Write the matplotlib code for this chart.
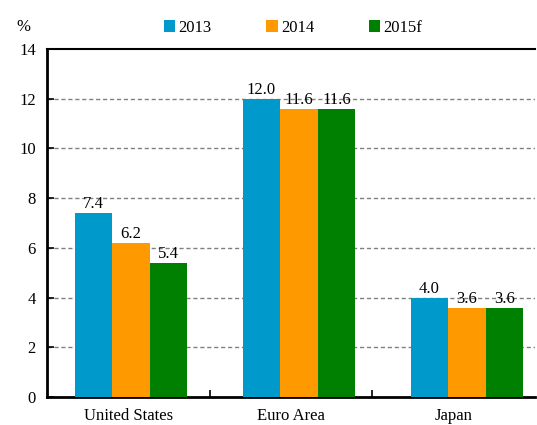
import numpy as np
import matplotlib
matplotlib.use("Agg")
import matplotlib.pyplot as plt
from matplotlib.patches import Patch

regions = ["United States", "Euro Area", "Japan"]
years = ["2013", "2014", "2015f"]
vals_2013 = [7.4, 12.0, 4.0]
vals_2014 = [6.2, 11.6, 3.6]
vals_2015 = [5.4, 11.6, 3.6]
colors = ["#0099CC", "#FF9900", "#008000"]
y_ticks = [0, 2, 4, 6, 8, 10, 12, 14]

plt.rcParams["font.family"] = ["Liberation Serif", "DejaVu Serif"]
plt.rcParams["font.size"] = 12

fig = plt.figure(figsize=(5.37, 4.25), dpi=100)
ax = fig.add_axes([47 / 537, 1 - 397 / 425, 488 / 537, 348 / 425])

# category boundaries (bar groups are not exactly centred in them, as in source)
bounds = [-0.5, 0.47, 1.435, 2.405]
label_pos = [(a + b) / 2 for a, b in zip(bounds[:-1], bounds[1:])]

x = np.arange(len(regions))
w = 0.223
series = [vals_2013, vals_2014, vals_2015]
for i, (vals, col) in enumerate(zip(series, colors)):
    pos = x + (i - 1) * w
    bars = ax.bar(pos, vals, width=w, color=col, zorder=3)
    for b, v in zip(bars, vals):
        ax.text(b.get_x() + b.get_width() / 2, v + 0.03, f"{v:.1f}",
                ha="center", va="bottom", fontsize=12, zorder=4)

ax.set_xlim(bounds[0], bounds[-1])
ax.set_ylim(0, 14)
ax.set_yticks(y_ticks)
ax.set_xticks(label_pos)
ax.set_xticklabels(regions)
ax.set_xticks(bounds[1:-1], minor=True)
ax.tick_params(axis="x", which="major", length=0, pad=8)
ax.tick_params(axis="x", which="minor", direction="in", length=5, width=1.2)
ax.tick_params(axis="y", direction="in", length=5, width=1.2, pad=8)

for yv in y_ticks[1:-1]:
    ax.axhline(yv, color="#808080", linestyle=(0, (3, 2)), linewidth=1, zorder=1)

ax.spines["right"].set_visible(False)
for s in ["left", "bottom"]:
    ax.spines[s].set_linewidth(2)
ax.spines["top"].set_linewidth(1.5)

ax.text(-0.049, 1.063, "%", transform=ax.transAxes, ha="center", va="center")

handles = [Patch(facecolor=c) for c in colors]
fig.legend(handles, years, loc="center", bbox_to_anchor=(293 / 537, 1 - 28 / 425),
           ncol=3, frameon=False, handlelength=0.7, handleheight=0.7,
           handletextpad=0.2, columnspacing=3.26, borderaxespad=0)

fig.savefig("out.png", dpi=100)
